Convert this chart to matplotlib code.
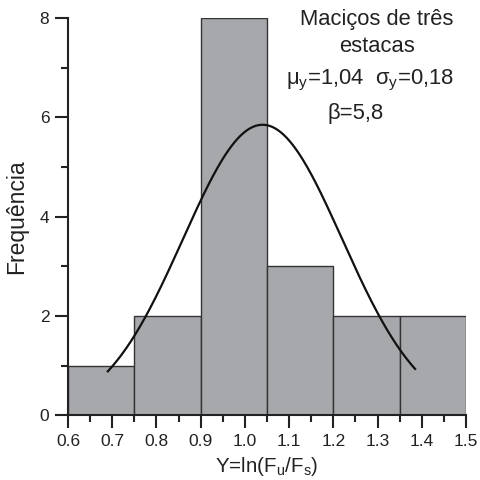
import matplotlib.pyplot as plt
import numpy as np

plt.rcParams['font.family'] = ['Liberation Sans', 'DejaVu Sans']
plt.rcParams['mathtext.default'] = 'regular'

# histogram data
bin_edges = [0.6, 0.75, 0.9, 1.05, 1.2, 1.35, 1.5]
counts = [1, 2, 8, 3, 2, 2]

# fitted normal curve
mu_y = 1.04
sigma_y = 0.18
peak = 5.85
curve_start = 0.69
curve_end = 1.385

fig = plt.figure(figsize=(4.8, 4.8), dpi=100)
ax = fig.add_axes([0.1417, 0.135, 0.829, 0.8275])

lefts = bin_edges[:-1]
widths = np.diff(bin_edges)
ax.bar(lefts, counts, width=widths, align='edge', color='#a7a8ac',
       edgecolor='#333333', linewidth=1.0, zorder=1)

xs = np.linspace(curve_start, curve_end, 200)
ys = peak * np.exp(-0.5 * ((xs - mu_y) / sigma_y) ** 2)
ax.plot(xs, ys, color='#111111', linewidth=1.6, zorder=3)

ax.set_xlim(0.6, 1.5)
ax.set_ylim(0, 8)
ax.set_xticks(np.arange(0.6, 1.51, 0.1))
ax.set_xticklabels(['%.1f' % v for v in np.arange(0.6, 1.51, 0.1)])
ax.set_xticks(np.arange(0.65, 1.5, 0.1), minor=True)
ax.set_yticks([0, 2, 4, 6, 8])
ax.set_yticks([1, 3, 5, 7], minor=True)

for s in ['top', 'right']:
    ax.spines[s].set_visible(False)
for s in ['left', 'bottom']:
    ax.spines[s].set_linewidth(1.5)
    ax.spines[s].set_color('#222222')
    ax.spines[s].set_zorder(4)

ax.tick_params(which='major', direction='out', length=9.5, width=1.5,
               labelsize=12.5, pad=4, colors='#222222')
ax.tick_params(which='minor', direction='out', length=5, width=1.5,
               colors='#222222')

txt = '#222222'
fig.text(17, 480 - 217, 'Frequência', transform=None, fontsize=16.5,
         rotation=90, ha='center', va='center', color=txt)
fig.text(267, 480 - 466, 'Y=ln(F$_u$/F$_s$)', transform=None, fontsize=14.8,
         ha='center', va='center', color=txt)

ax.text(377, 480 - 19, 'Maciços de três', transform=None, fontsize=15.8,
        ha='center', va='center', color=txt)
ax.text(377, 480 - 46, 'estacas', transform=None, fontsize=15.8,
        ha='center', va='center', color=txt)
ax.text(370, 480 - 80, 'μ$_y$=1,04  σ$_y$=0,18', transform=None, fontsize=15.8,
        ha='center', va='center', color=txt)
ax.text(356, 480 - 113, 'β=5,8', transform=None, fontsize=15.8,
        ha='center', va='center', color=txt)

plt.savefig('out.png', dpi=100)
